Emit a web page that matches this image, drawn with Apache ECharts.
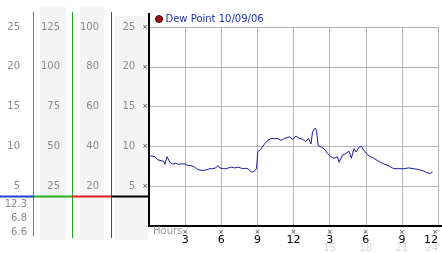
<!DOCTYPE html>
<html><head><meta charset="utf-8">
<script src="https://cdn.jsdelivr.net/npm/echarts@6/dist/echarts.min.js"></script>
<style>html,body{margin:0;padding:0;background:#fff}#c{width:442px;height:253px}</style>
</head><body><div id="c"></div>
<script>
const seriesName = 'Dew Point 10/09/06';
const hours = [0,0.25,0.5,0.74,1.05,1.24,1.32,1.49,1.74,1.98,2.23,2.4,2.73,2.98,3.22,3.47,3.8,4.05,4.3,4.46,4.63,4.79,5.04,5.29,5.54,5.73,5.87,6.01,6.2,6.42,6.61,6.83,7.11,7.38,7.6,7.79,8.02,8.21,8.35,8.49,8.68,8.76,8.93,9.03,9.31,9.59,9.86,10.14,10.41,10.69,10.83,10.97,11.24,11.38,11.65,11.93,12.21,12.48,12.75,13.03,13.25,13.45,13.58,13.8,13.91,14.05,14.19,14.32,14.46,14.55,14.82,15.1,15.37,15.64,15.79,16.06,16.34,16.61,16.8,17.02,17.21,17.44,17.63,17.85,18.12,18.4,18.68,19.09,19.5,19.92,20.33,20.74,21.16,21.57,21.98,22.4,22.81,23.08,23.22,23.36,23.55];
const dewPoint = [8.8,8.8,8.7,8.3,8.2,8.1,7.75,8.7,8.0,7.75,7.9,7.75,7.8,7.8,7.6,7.6,7.4,7.1,7.0,6.8,7.0,6.9,7.2,7.2,7.3,7.6,7.3,7.1,7.2,7.2,7.3,7.4,7.3,7.4,7.3,7.2,7.25,7.2,7.0,6.8,6.8,6.85,7.2,9.3,9.7,10.3,10.75,11.0,11.0,11.0,11.2,10.75,11.0,10.75,11.2,10.9,11.3,11.0,10.9,10.6,11.0,10.3,11.8,12.3,12.0,10.1,10.3,9.9,10.1,9.7,9.1,8.7,8.5,8.7,8.0,8.9,9.1,9.4,8.5,9.7,9.3,9.9,10.0,9.5,9.0,8.7,8.5,8.1,7.8,7.55,7.2,7.2,7.2,7.3,7.2,7.1,6.9,6.7,6.9,6.6,6.8];
// left scale columns (max values, tick intervals)
const scaleMax = [25, 125, 100, 25];
const scaleStep = [5, 25, 20, 5];
const statLabels = ['12.3', '6.8', '6.6'];
const secondDayLabels = [15, 18, 21, 24];

const chart = echarts.init(document.getElementById('c'), null, {renderer: 'canvas'});
const gray = '#8a8a8a';
const font = 'DejaVu Sans';
const data = hours.map((h, i) => [h, dewPoint[i]]);

function sideAxis(idx, offset, margin) {
  return {
    type: 'value', position: 'left', offset: offset, min: 0, max: scaleMax[idx], interval: scaleStep[idx],
    axisLine: {show: false}, axisTick: {show: false}, splitLine: {show: false},
    axisLabel: {margin: margin, color: gray, fontFamily: font, fontSize: 10,
      formatter: v => v === 0 ? '' : String(v)}
  };
}

const option = {
  animation: false,
  backgroundColor: '#fff',
  grid: {left: 149, right: 4, top: 27, bottom: 27, containLabel: false, outerBoundsMode: 'none'},
  legend: {
    show: true, left: 155, top: 14, icon: 'circle', itemWidth: 7, itemHeight: 7, itemGap: 4,
    padding: 0,
    textStyle: {color: '#1f2fae', fontFamily: font, fontSize: 10, padding: [0, 0, 0, -2]},
    data: [{name: seriesName, itemStyle: {color: '#9a1515', borderColor: '#400', borderWidth: 1}}]
  },
  xAxis: [{
    type: 'value', min: 0, max: 24, interval: 3,
    axisLine: {show: true, lineStyle: {color: '#000', width: 2}},
    axisTick: {show: false},
    splitLine: {show: true, lineStyle: {color: '#b4b4b4', width: 1}},
    axisLabel: {margin: 3, alignMaxLabel: 'right',
      formatter: v => v === 0 ? '' : '{m|×}\n{v|' + (v % 12 === 0 ? 12 : v % 12) + '}',
      rich: {m: {fontSize: 7, lineHeight: 6, color: '#333', fontFamily: font},
             v: {fontSize: 11, lineHeight: 11, color: '#000', fontFamily: font}}}
  }, {
    type: 'value', min: 0, max: 24, interval: 3, position: 'bottom', offset: 15,
    axisLine: {show: false}, axisTick: {show: false}, splitLine: {show: false},
    axisLabel: {margin: 2, alignMaxLabel: 'right', color: '#d8d8d8', fontFamily: font, fontSize: 10,
      formatter: v => secondDayLabels.indexOf(v) >= 0 ? String(v) : ''}
  }],
  yAxis: [{
    type: 'value', position: 'left', min: 0, max: scaleMax[3], interval: scaleStep[3],
    axisLine: {show: false}, axisTick: {show: false},
    splitLine: {show: true, lineStyle: {color: '#b4b4b4', width: 1}},
    axisLabel: {margin: 1, formatter: v => v === 0 ? '' : '{v|' + v + '}{m|×}',
      rich: {v: {color: gray, fontFamily: font, fontSize: 10, padding: [0, 7, 0, 0]},
             m: {color: '#333', fontFamily: font, fontSize: 7}}}
  },
    sideAxis(2, 38, 12),
    sideAxis(1, 77, 12),
    sideAxis(0, 116, 13)
  ],
  series: [{
    name: seriesName, type: 'line', xAxisIndex: 0, yAxisIndex: 0, data: data,
    showSymbol: false, symbol: 'none', lineStyle: {color: '#1a1aa0', width: 1}, itemStyle: {color: '#1a1aa0'},
    z: 5
  }],
  graphic: [
    {type: 'rect', z: -10, shape: {x: 40, y: 7, width: 26, height: 233}, style: {fill: '#f4f4f4'}},
    {type: 'rect', z: -10, shape: {x: 80, y: 7, width: 24, height: 233}, style: {fill: '#f4f4f4'}},
    {type: 'rect', z: -10, shape: {x: 115, y: 16, width: 33, height: 224}, style: {fill: '#f4f4f4'}},
    {type: 'line', z: 10, shape: {x1: 33.5, y1: 12, x2: 33.5, y2: 236}, style: {stroke: '#1f8ee0', lineWidth: 1}},
    {type: 'line', z: 10, shape: {x1: 72.5, y1: 12, x2: 72.5, y2: 238}, style: {stroke: '#1fa01f', lineWidth: 1}},
    {type: 'line', z: 10, shape: {x1: 111.5, y1: 12, x2: 111.5, y2: 238}, style: {stroke: '#c01c1c', lineWidth: 1}},
    {type: 'line', z: 10, shape: {x1: 149, y1: 13, x2: 149, y2: 227}, style: {stroke: '#000', lineWidth: 2}},
    {type: 'line', z: 10, shape: {x1: 149, y1: 226, x2: 442, y2: 226}, style: {stroke: '#000', lineWidth: 2}},
    {type: 'line', z: 11, shape: {x1: 0, y1: 196.5, x2: 34, y2: 196.5}, style: {stroke: '#1a44d0', lineWidth: 2}},
    {type: 'line', z: 11, shape: {x1: 34, y1: 196.5, x2: 72, y2: 196.5}, style: {stroke: '#22b022', lineWidth: 2}},
    {type: 'line', z: 11, shape: {x1: 72, y1: 196.5, x2: 111, y2: 196.5}, style: {stroke: '#e01c1c', lineWidth: 2}},
    {type: 'line', z: 11, shape: {x1: 111, y1: 196.5, x2: 149, y2: 196.5}, style: {stroke: '#000', lineWidth: 2}},
    {type: 'text', z: 12, style: {text: statLabels[0], x: 27, y: 204, align: 'right', verticalAlign: 'middle', fill: gray, font: '10px "DejaVu Sans"'}},
    {type: 'text', z: 12, style: {text: statLabels[1], x: 27, y: 218, align: 'right', verticalAlign: 'middle', fill: gray, font: '10px "DejaVu Sans"'}},
    {type: 'text', z: 12, style: {text: statLabels[2], x: 27, y: 232, align: 'right', verticalAlign: 'middle', fill: gray, font: '10px "DejaVu Sans"'}},
    {type: 'text', z: 12, style: {text: 'Hours', x: 153, y: 231, align: 'left', verticalAlign: 'middle', fill: '#999', font: '10px "DejaVu Sans"'}}
  ]
};
chart.setOption(option);
</script></body></html>
